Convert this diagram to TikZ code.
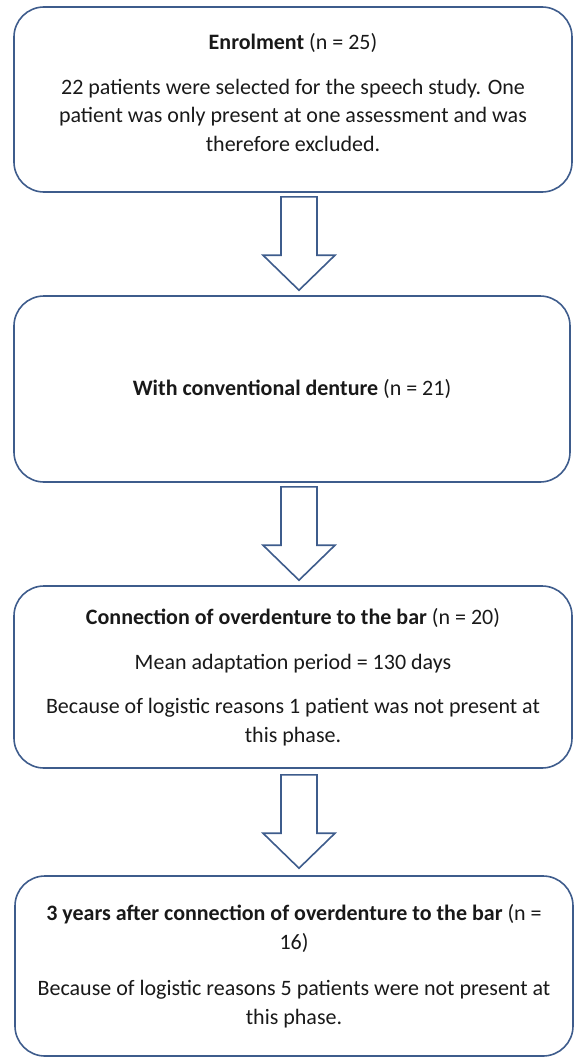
\documentclass[tikz,border=0pt]{standalone}
\usepackage{fontspec}
\setmainfont{Carlito}
\usetikzlibrary{calc}
\definecolor{boxline}{RGB}{62,92,140}
\definecolor{boxtext}{RGB}{25,25,25}

\begin{document}
\begin{tikzpicture}[x=1pt, y=1pt,
	every node/.style={font=\fontsize{22}{28.5}\selectfont, text=boxtext},
	phasebox/.style={draw=boxline, line width=1.6pt, rounded corners=30pt, align=center, inner sep=0pt, minimum width=558pt},
	blockarrow/.style={draw=boxline, line width=1.6pt, fill=white, line join=miter}]
	\useasboundingbox (0,0) rectangle (574,-1057);
	\node[phasebox, minimum height=185pt] (enrol) at (293,-99.5) {\textbf{Enrolment} (n = 25)\\[16pt]22 patients were selected for the speech study. One\\patient was only present at one assessment and was\\therefore excluded.\\[-14pt]~};
	\node[phasebox, minimum height=186pt, minimum width=556pt] (conv) at (292,-389) {\textbf{With conventional denture} (n = 21)};
	\node[phasebox, minimum height=182pt] (conn) at (293,-677) {\textbf{Connection of overdenture to the bar} (n = 20)\\[16pt]Mean adaptation period = 130 days\\[16pt]Because of logistic reasons 1 patient was not present at\\this phase.};
	\node[phasebox, minimum height=180pt] (three) at (294,-966) {\textbf{3 years after connection of overdenture to the bar} (n =\\16)\\[18pt]Because of logistic reasons 5 patients were not present at\\this phase.};
	\draw[blockarrow] let \p1=($(enrol.south)+(6,-4)$), \p2=($(conv.north)+(7,5)$) in
		(\x1-18pt,\y1) -- (\x1+18pt,\y1) -- (\x1+18pt,\y2+35pt) -- (\x1+36pt,\y2+35pt) -- (\x1,\y2) -- (\x1-36pt,\y2+35pt) -- (\x1-18pt,\y2+35pt) -- cycle;
	\draw[blockarrow] let \p1=($(conv.south)+(7,-4)$), \p2=($(conn.north)+(6,5)$) in
		(\x1-18pt,\y1) -- (\x1+18pt,\y1) -- (\x1+18pt,\y2+35pt) -- (\x1+36pt,\y2+35pt) -- (\x1,\y2) -- (\x1-36pt,\y2+35pt) -- (\x1-18pt,\y2+35pt) -- cycle;
	\draw[blockarrow] let \p1=($(conn.south)+(6,-6)$), \p2=($(three.north)+(5,7)$) in
		(\x1-18pt,\y1) -- (\x1+18pt,\y1) -- (\x1+18pt,\y2+35pt) -- (\x1+36pt,\y2+35pt) -- (\x1,\y2) -- (\x1-36pt,\y2+35pt) -- (\x1-18pt,\y2+35pt) -- cycle;
\end{tikzpicture}
\end{document}
